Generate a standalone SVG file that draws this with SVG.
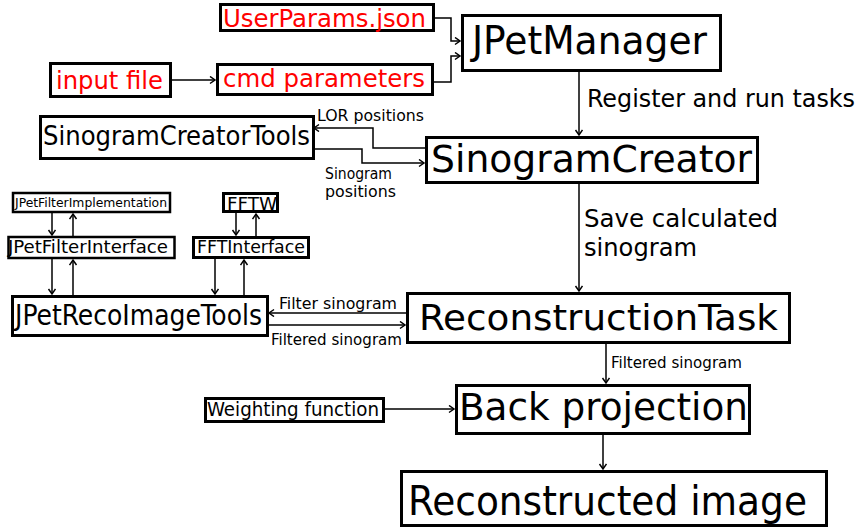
<svg xmlns="http://www.w3.org/2000/svg" width="858" height="529" viewBox="0 0 858 529">
<style>
.box{fill:#fff;stroke:#000;stroke-width:3}
.sm{stroke-width:2.5}
text{font-family:"DejaVu Sans Condensed","DejaVu Sans","Liberation Sans",sans-serif;font-stretch:condensed;fill:#000}
.red{fill:#ff0000}
.c{fill:none;stroke:#000;stroke-width:1.5}
</style>
<defs>
<marker id="a" markerUnits="userSpaceOnUse" markerWidth="10" markerHeight="10" refX="7" refY="4" orient="auto">
<path d="M2,0.5 L7,4 L2,7.5" fill="none" stroke="#000" stroke-width="1.5"/>
</marker>
</defs>
<rect width="858" height="529" fill="#fff"/>
<g id="connectors">
<path class="c" d="M172,80 H215" marker-end="url(#a)"/>
<path class="c" d="M434,18 H451 V41 H460" marker-end="url(#a)"/>
<path class="c" d="M433,82 H451 V56 H460" marker-end="url(#a)"/>
<path class="c" d="M579,72 V135" marker-end="url(#a)"/>
<path class="c" d="M425,148 H373 V128 H314" marker-end="url(#a)"/>
<path class="c" d="M315,149 H362 V163 H424" marker-end="url(#a)"/>
<path class="c" d="M579,184 V291" marker-end="url(#a)"/>
<path class="c" d="M52,213 V235" marker-end="url(#a)"/>
<path class="c" d="M73,236 V214" marker-end="url(#a)"/>
<path class="c" d="M236,213 V235" marker-end="url(#a)"/>
<path class="c" d="M256,236 V214" marker-end="url(#a)"/>
<path class="c" d="M52,259 V294" marker-end="url(#a)"/>
<path class="c" d="M73,296 V260" marker-end="url(#a)"/>
<path class="c" d="M215,259 V294" marker-end="url(#a)"/>
<path class="c" d="M244,296 V260" marker-end="url(#a)"/>
<path class="c" d="M406,313 H269" marker-end="url(#a)"/>
<path class="c" d="M268,325 H405" marker-end="url(#a)"/>
<path class="c" d="M606,344 V383" marker-end="url(#a)"/>
<path class="c" d="M385,409 H454" marker-end="url(#a)"/>
<path class="c" d="M603,435 V469" marker-end="url(#a)"/>
<text x="587" y="107" font-size="24" textLength="268" lengthAdjust="spacingAndGlyphs">Register and run tasks</text>
<text x="317" y="121" font-size="15" textLength="107" lengthAdjust="spacingAndGlyphs">LOR positions</text>
<text x="325" y="179" font-size="15" textLength="67" lengthAdjust="spacingAndGlyphs">Sinogram</text>
<text x="325" y="197" font-size="15" textLength="71" lengthAdjust="spacingAndGlyphs">positions</text>
<text x="584" y="227" font-size="24" textLength="194" lengthAdjust="spacingAndGlyphs">Save calculated</text>
<text x="584" y="256" font-size="24" textLength="113" lengthAdjust="spacingAndGlyphs">sinogram</text>
<text x="279" y="309" font-size="15" textLength="118" lengthAdjust="spacingAndGlyphs">Filter sinogram</text>
<text x="271" y="345" font-size="15" textLength="131" lengthAdjust="spacingAndGlyphs">Filtered sinogram</text>
<text x="611" y="368" font-size="15" textLength="131" lengthAdjust="spacingAndGlyphs">Filtered sinogram</text>
</g>
<g id="userparams"><rect class="box" x="220.5" y="4.5" width="213" height="26"/><text class="red" x="223" y="27" font-size="25" textLength="203" lengthAdjust="spacingAndGlyphs">UserParams.json</text></g>
<g id="inputfile"><rect class="box" x="50.5" y="63.5" width="120" height="33"/><text class="red" x="56" y="89" font-size="25" textLength="107" lengthAdjust="spacingAndGlyphs">input file</text></g>
<g id="cmdparams"><rect class="box" x="217.5" y="64.5" width="215" height="30"/><text class="red" x="223" y="87" font-size="25" textLength="202" lengthAdjust="spacingAndGlyphs">cmd parameters</text></g>
<g id="jpetmanager"><rect class="box" x="462.5" y="15.5" width="258" height="55"/><text x="472" y="54" font-size="39" textLength="235" lengthAdjust="spacingAndGlyphs">JPetManager</text></g>
<g id="sinogramcreatortools"><rect class="box" x="40.5" y="116.5" width="273" height="42"/><text x="43" y="145" font-size="26" textLength="267" lengthAdjust="spacingAndGlyphs">SinogramCreatorTools</text></g>
<g id="sinogramcreator"><rect class="box" x="426.5" y="137.5" width="331" height="45"/><text x="431" y="172" font-size="37" textLength="321" lengthAdjust="spacingAndGlyphs">SinogramCreator</text></g>
<g id="filterimpl"><rect class="box sm" x="13" y="193" width="157" height="19"/><text x="15" y="207" font-size="11.5" textLength="152" lengthAdjust="spacingAndGlyphs">JPetFilterImplementation</text></g>
<g id="fftw"><rect class="box" x="223.5" y="193.5" width="54" height="18"/><text x="227" y="210" font-size="18" textLength="50" lengthAdjust="spacingAndGlyphs">FFTW</text></g>
<g id="filterinterface"><rect class="box sm" x="8.5" y="237" width="166" height="21"/><text x="8" y="253" font-size="18" textLength="160" lengthAdjust="spacingAndGlyphs">JPetFilterInterface</text></g>
<g id="fftinterface"><rect class="box" x="193.5" y="237.5" width="115" height="20"/><text x="197" y="253" font-size="18" textLength="108" lengthAdjust="spacingAndGlyphs">FFTInterface</text></g>
<g id="recoimagetools"><rect class="box" x="12.5" y="296.5" width="255" height="39"/><text x="15" y="325" font-size="28" textLength="247" lengthAdjust="spacingAndGlyphs">JPetRecoImageTools</text></g>
<g id="reconstructiontask"><rect class="box" x="407.5" y="293.5" width="382" height="49"/><text x="419" y="330" font-size="36" textLength="359" lengthAdjust="spacingAndGlyphs">ReconstructionTask</text></g>
<g id="weighting"><rect class="box" x="205.5" y="398.5" width="178" height="23"/><text x="207" y="416" font-size="19" textLength="172" lengthAdjust="spacingAndGlyphs">Weighting function</text></g>
<g id="backprojection"><rect class="box" x="456.5" y="385.5" width="293" height="48"/><text x="459" y="420" font-size="37" textLength="289" lengthAdjust="spacingAndGlyphs">Back projection</text></g>
<g id="reconstructedimage"><rect class="box" x="401.5" y="471.5" width="425" height="54"/><text x="408" y="515" font-size="41" textLength="399" lengthAdjust="spacingAndGlyphs">Reconstructed image</text></g>
</svg>
